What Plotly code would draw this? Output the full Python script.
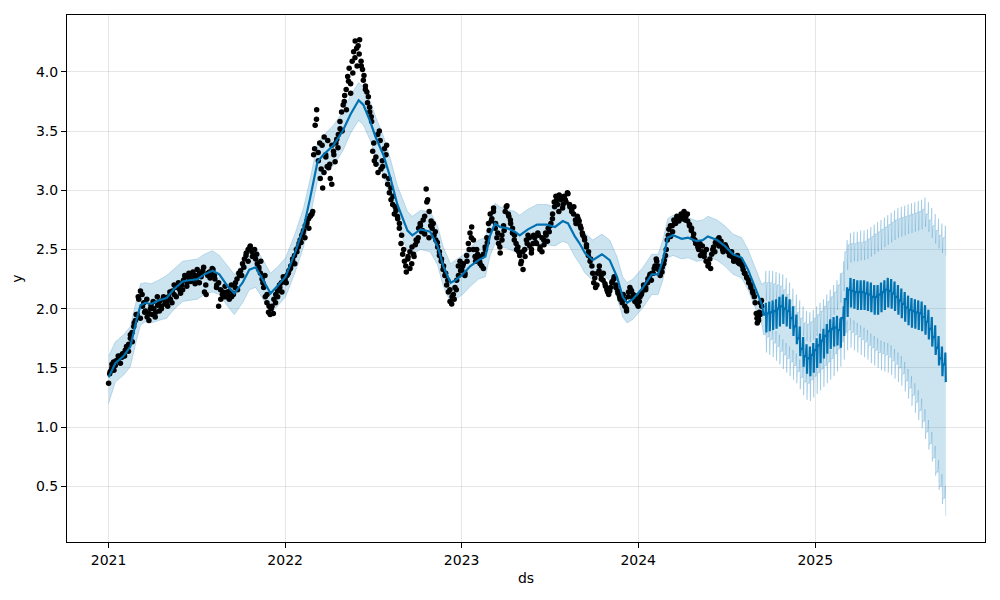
import pandas as pd
import plotly.graph_objects as go

# ---------------- observed data points (grouped by month, two interleaved readings) ----------------
obs_months = ["2021-01", "2021-02", "2021-03", "2021-04", "2021-05", "2021-06",
              "2021-07", "2021-08", "2021-09", "2021-10", "2021-11", "2021-12",
              "2022-01", "2022-02", "2022-03", "2022-04", "2022-05", "2022-06",
              "2022-07", "2022-08", "2022-09", "2022-10", "2022-11", "2022-12",
              "2023-01", "2023-02", "2023-03", "2023-04", "2023-05", "2023-06",
              "2023-07", "2023-08", "2023-09", "2023-10", "2023-11", "2023-12",
              "2024-01", "2024-02", "2024-03", "2024-04", "2024-05", "2024-06",
              "2024-07", "2024-08", "2024-09"]
obs_last_day = "2024-09-14"
obs_values = [
    [1.37, 1.47, 1.53, 1.55, 1.52, 1.56, 1.58, 1.60, 1.59],
    [1.62, 1.65, 1.66, 1.70, 1.75, 1.80, 1.85, 1.90],
    [1.95, 2.08, 2.15, 2.12, 2.05, 1.98, 1.93, 1.96, 2.00],
    [1.95, 2.00, 1.97, 2.03, 2.06, 2.02, 2.08, 2.04],
    [2.05, 2.10, 2.08, 2.15, 2.12, 2.18, 2.20, 2.16],
    [2.20, 2.24, 2.27, 2.22, 2.26, 2.29, 2.25, 2.28],
    [2.25, 2.28, 2.30, 2.27, 2.32, 2.14, 2.12, 2.28, 2.31],
    [2.30, 2.33, 2.25, 2.20, 2.02, 2.16, 2.12, 2.10],
    [2.10, 2.12, 2.15, 2.10, 2.13, 2.18, 2.25, 2.30],
    [2.32, 2.38, 2.42, 2.47, 2.50, 2.52, 2.48, 2.45],
    [2.42, 2.38, 2.35, 2.30, 2.25, 2.18, 2.10, 2.05, 1.97],
    [1.95, 2.02, 2.08, 2.12, 2.15, 2.20, 2.22, 2.27],
    [2.25, 2.28, 2.32, 2.36, 2.40, 2.45, 2.50, 2.52],
    [2.58, 2.62, 2.66, 2.70, 2.72, 2.76, 2.78, 2.80],
    [3.30, 3.55, 3.68, 3.32, 3.40, 3.18, 3.02, 3.45, 3.30, 3.20],
    [3.19, 3.10, 3.38, 3.33, 3.24, 3.43, 3.47, 3.58, 3.66],
    [3.72, 3.80, 3.85, 3.96, 4.03, 3.90, 4.09, 4.17, 4.26, 4.20],
    [4.22, 4.27, 4.09, 4.02, 3.97, 3.88, 3.83, 3.79, 3.66, 3.62],
    [3.33, 3.25, 3.22, 3.47, 3.50, 3.18, 3.20, 3.35, 3.30],
    [3.05, 2.98, 2.92, 2.88, 2.80, 2.83, 2.76, 2.68, 2.55],
    [2.46, 2.40, 2.31, 2.44, 2.48, 2.38, 2.46, 2.54],
    [2.57, 2.68, 2.72, 2.65, 2.75, 2.63, 3.01, 2.92, 2.82, 2.70],
    [2.68, 2.62, 2.58, 2.52, 2.45, 2.40, 2.33, 2.28],
    [2.20, 2.14, 2.06, 2.04, 2.12, 2.18, 2.24, 2.36, 2.40],
    [2.33, 2.38, 2.30, 2.45, 2.55, 2.64, 2.69, 2.50, 2.44],
    [2.50, 2.42, 2.38, 2.36, 2.46, 2.52, 2.60, 2.72],
    [2.80, 2.76, 2.85, 2.68, 2.60, 2.55, 2.47, 2.62, 2.70],
    [2.82, 2.87, 2.78, 2.72, 2.64, 2.58, 2.55, 2.52],
    [2.45, 2.40, 2.33, 2.50, 2.58, 2.62, 2.53, 2.47, 2.55],
    [2.60, 2.55, 2.62, 2.52, 2.48, 2.58, 2.64, 2.57],
    [2.65, 2.72, 2.80, 2.90, 2.95, 2.88, 2.96, 2.92, 2.85],
    [2.95, 2.90, 2.97, 2.86, 2.84, 2.80, 2.75, 2.78],
    [2.74, 2.68, 2.62, 2.58, 2.52, 2.45, 2.40, 2.36],
    [2.22, 2.18, 2.30, 2.36, 2.28, 2.24, 2.21, 2.16],
    [2.12, 2.18, 2.23, 2.27, 2.20, 2.15, 2.10, 2.12],
    [2.12, 2.02, 1.98, 2.10, 2.18, 2.15, 2.12, 2.06, 2.08],
    [2.02, 2.10, 2.14, 2.19, 2.16, 2.22, 2.27, 2.24],
    [2.30, 2.36, 2.40, 2.33, 2.29, 2.31, 2.38, 2.45],
    [2.58, 2.67, 2.61, 2.70, 2.75, 2.72, 2.77, 2.74, 2.78],
    [2.76, 2.82, 2.78, 2.74, 2.70, 2.66, 2.60, 2.58],
    [2.56, 2.50, 2.45, 2.53, 2.47, 2.40, 2.36, 2.42],
    [2.46, 2.52, 2.56, 2.58, 2.60, 2.54, 2.50, 2.52],
    [2.52, 2.48, 2.46, 2.44, 2.40, 2.42, 2.45, 2.38],
    [2.38, 2.33, 2.30, 2.26, 2.24, 2.20, 2.15, 2.10],
    [1.96, 1.88, 1.92, 1.97, 2.05, 2.07],
]
obs_values_b = [
    [1.45, 1.50, 1.48, 1.56, 1.60, 1.54, 1.62],
    [1.60, 1.68, 1.64, 1.78, 1.72, 1.88, 1.95],
    [2.10, 1.92, 2.02, 1.97, 2.08, 1.90, 2.03],
    [2.06, 1.93, 2.10, 1.98, 2.00, 2.10, 2.07],
    [2.02, 2.14, 2.05, 2.20, 2.10, 2.22, 2.13],
    [2.16, 2.28, 2.19, 2.30, 2.23, 2.31, 2.21],
    [2.33, 2.22, 2.29, 2.35, 2.20, 2.30, 2.26],
    [2.34, 2.28, 2.18, 2.22, 2.08, 2.14, 2.19],
    [2.14, 2.08, 2.20, 2.12, 2.22, 2.16, 2.28],
    [2.28, 2.35, 2.45, 2.40, 2.53, 2.44, 2.50],
    [2.46, 2.33, 2.40, 2.22, 2.28, 2.12, 2.02],
    [2.00, 1.96, 2.05, 2.10, 2.18, 2.14, 2.25],
    [2.22, 2.30, 2.34, 2.42, 2.38, 2.48, 2.55],
    [2.56, 2.64, 2.60, 2.74, 2.68, 2.79, 2.82],
    [3.35, 3.60, 3.25, 3.10, 3.38, 3.15, 3.28, 3.42],
    [3.22, 3.05, 3.30, 3.40, 3.36, 3.52, 3.50],
    [3.75, 3.68, 3.92, 3.82, 3.99, 4.12, 4.05],
    [4.15, 4.05, 3.93, 3.85, 3.74, 3.70, 3.58],
    [3.40, 3.28, 3.15, 3.42, 3.25, 3.12, 3.38],
    [3.10, 3.02, 2.95, 2.86, 2.78, 2.72, 2.62],
    [2.50, 2.36, 2.42, 2.34, 2.52, 2.44, 2.58],
    [2.60, 2.70, 2.66, 2.78, 2.90, 2.60, 2.74],
    [2.72, 2.65, 2.56, 2.48, 2.42, 2.36, 2.30],
    [2.24, 2.16, 2.10, 2.08, 2.16, 2.28, 2.32],
    [2.36, 2.28, 2.40, 2.50, 2.60, 2.58, 2.40],
    [2.46, 2.40, 2.44, 2.34, 2.50, 2.56, 2.66],
    [2.74, 2.82, 2.72, 2.64, 2.52, 2.58, 2.66],
    [2.86, 2.80, 2.75, 2.68, 2.62, 2.50, 2.48],
    [2.38, 2.48, 2.44, 2.55, 2.60, 2.50, 2.62],
    [2.56, 2.64, 2.50, 2.60, 2.54, 2.62, 2.68],
    [2.70, 2.76, 2.86, 2.92, 2.82, 2.94, 2.88],
    [2.92, 2.98, 2.88, 2.82, 2.86, 2.72, 2.76],
    [2.70, 2.64, 2.60, 2.54, 2.48, 2.42, 2.30],
    [2.26, 2.20, 2.32, 2.25, 2.30, 2.19, 2.14],
    [2.15, 2.22, 2.25, 2.18, 2.13, 2.08, 2.05],
    [2.08, 2.00, 2.14, 2.16, 2.09, 2.11, 2.04],
    [2.06, 2.12, 2.20, 2.18, 2.25, 2.29, 2.30],
    [2.34, 2.42, 2.36, 2.28, 2.35, 2.41, 2.50],
    [2.62, 2.70, 2.65, 2.73, 2.78, 2.76, 2.80],
    [2.79, 2.75, 2.80, 2.71, 2.68, 2.63, 2.55],
    [2.52, 2.55, 2.48, 2.44, 2.50, 2.38, 2.34],
    [2.50, 2.48, 2.55, 2.53, 2.57, 2.48, 2.54],
    [2.50, 2.45, 2.48, 2.42, 2.44, 2.39, 2.41],
    [2.36, 2.30, 2.27, 2.22, 2.18, 2.13, 2.05],
    [1.92, 1.90, 1.95, 2.02],
]

# ---------------- fitted history (yhat and uncertainty interval) ----------------
hist_dates = ["2021-01-01", "2021-01-15", "2021-02-01", "2021-02-15", "2021-02-28",
              "2021-03-08", "2021-03-18", "2021-03-30", "2021-04-14", "2021-05-01",
              "2021-05-15", "2021-06-03", "2021-06-17", "2021-07-04", "2021-07-18",
              "2021-08-04", "2021-08-18", "2021-09-04", "2021-09-18", "2021-10-05",
              "2021-10-19", "2021-11-01", "2021-11-15", "2021-12-02", "2021-12-18",
              "2022-01-02", "2022-01-22", "2022-02-08", "2022-02-22", "2022-03-09",
              "2022-03-21", "2022-04-11", "2022-04-30", "2022-05-16", "2022-06-02",
              "2022-06-12", "2022-06-26", "2022-07-07", "2022-07-23", "2022-08-07",
              "2022-08-21", "2022-09-03", "2022-09-11", "2022-09-21", "2022-10-08",
              "2022-10-28", "2022-11-12", "2022-11-24", "2022-12-09", "2022-12-19",
              "2023-01-03", "2023-01-19", "2023-02-05", "2023-02-19", "2023-03-01",
              "2023-03-11", "2023-03-21", "2023-04-05", "2023-04-21", "2023-05-01",
              "2023-05-18", "2023-06-06", "2023-06-26", "2023-07-13", "2023-07-29",
              "2023-08-09", "2023-08-23", "2023-09-02", "2023-09-13", "2023-09-29",
              "2023-10-18", "2023-11-03", "2023-11-18", "2023-11-30", "2023-12-09",
              "2023-12-21", "2024-01-11", "2024-01-29", "2024-02-11", "2024-02-21",
              "2024-03-02", "2024-03-13", "2024-03-31", "2024-04-13", "2024-05-01",
              "2024-05-14", "2024-05-24", "2024-06-12", "2024-06-28", "2024-07-15",
              "2024-08-02", "2024-08-15", "2024-08-29", "2024-09-13"]
hist_yhat = [1.42, 1.54, 1.60, 1.68, 1.91, 2.03, 2.05, 2.04, 2.07, 2.09,
             2.16, 2.23, 2.24, 2.25, 2.29, 2.32, 2.29, 2.19, 2.13, 2.22,
             2.33, 2.35, 2.25, 2.13, 2.20, 2.27, 2.48, 2.68, 2.94, 3.24,
             3.30, 3.38, 3.50, 3.64, 3.76, 3.72, 3.58, 3.45, 3.30, 3.10,
             2.88, 2.74, 2.66, 2.62, 2.67, 2.65, 2.53, 2.36, 2.22, 2.24,
             2.29, 2.36, 2.41, 2.44, 2.62, 2.72, 2.69, 2.68, 2.65, 2.62,
             2.67, 2.71, 2.71, 2.69, 2.74, 2.72, 2.61, 2.55, 2.47, 2.41,
             2.46, 2.41, 2.27, 2.10, 2.05, 2.08, 2.18, 2.29, 2.29, 2.41,
             2.60, 2.62, 2.59, 2.60, 2.57, 2.58, 2.61, 2.58, 2.53, 2.46,
             2.43, 2.33, 2.19, 2.03]
hist_lower = [1.20, 1.38, 1.44, 1.51, 1.74, 1.86, 1.89, 1.88, 1.90, 1.92,
              1.99, 2.06, 2.07, 2.08, 2.12, 2.14, 2.12, 2.02, 1.95, 2.05,
              2.16, 2.18, 2.09, 1.96, 2.03, 2.10, 2.31, 2.52, 2.78, 3.08,
              3.14, 3.21, 3.33, 3.48, 3.59, 3.55, 3.42, 3.29, 3.13, 2.93,
              2.72, 2.57, 2.50, 2.46, 2.50, 2.48, 2.37, 2.19, 2.05, 2.08,
              2.12, 2.19, 2.25, 2.27, 2.45, 2.55, 2.52, 2.51, 2.48, 2.46,
              2.50, 2.54, 2.54, 2.53, 2.57, 2.55, 2.44, 2.38, 2.30, 2.24,
              2.29, 2.24, 2.10, 1.93, 1.88, 1.91, 2.01, 2.12, 2.12, 2.24,
              2.43, 2.45, 2.42, 2.43, 2.40, 2.41, 2.44, 2.41, 2.36, 2.29,
              2.26, 2.16, 2.02, 1.86]
hist_upper = [1.60, 1.72, 1.78, 1.85, 2.08, 2.21, 2.22, 2.21, 2.24, 2.28,
              2.33, 2.40, 2.41, 2.42, 2.46, 2.49, 2.45, 2.36, 2.29, 2.38,
              2.50, 2.52, 2.42, 2.30, 2.36, 2.43, 2.64, 2.85, 3.10, 3.40,
              3.46, 3.55, 3.66, 3.80, 3.91, 3.87, 3.75, 3.62, 3.46, 3.26,
              3.04, 2.90, 2.82, 2.78, 2.83, 2.82, 2.70, 2.52, 2.38, 2.41,
              2.45, 2.52, 2.58, 2.60, 2.78, 2.89, 2.86, 2.84, 2.82, 2.79,
              2.84, 2.88, 2.88, 2.86, 2.91, 2.88, 2.78, 2.72, 2.64, 2.58,
              2.63, 2.58, 2.44, 2.27, 2.22, 2.25, 2.35, 2.46, 2.46, 2.58,
              2.76, 2.79, 2.76, 2.77, 2.74, 2.75, 2.78, 2.75, 2.70, 2.63,
              2.60, 2.50, 2.36, 2.20]

# ---------------- forecast (weekly: weekday level + weekend effects) ----------------
fc_first_monday = "2024-09-16"
fc_yhat = [1.95, 1.96, 1.97, 1.98, 2.00, 2.02, 2.00, 1.98, 1.92, 1.85,
           1.75, 1.66, 1.60, 1.58, 1.61, 1.65, 1.69, 1.73, 1.77, 1.81,
           1.83, 1.84, 1.82, 1.92, 2.08, 2.16, 2.15, 2.14, 2.14, 2.14,
           2.13, 2.12, 2.10, 2.10, 2.12, 2.14, 2.16, 2.15, 2.13, 2.10,
           2.07, 2.04, 2.01, 1.99, 1.98, 1.97, 1.96, 1.93, 1.89, 1.83,
           1.76, 1.67, 1.58, 1.53]
fc_upper = [2.22, 2.22, 2.22, 2.21, 2.20, 2.19, 2.16, 2.12, 2.07, 2.02,
            1.97, 1.92, 1.88, 1.87, 1.89, 1.92, 1.95, 1.98, 2.02, 2.06,
            2.10, 2.14, 2.20, 2.30, 2.48, 2.54, 2.55, 2.55, 2.56, 2.56,
            2.57, 2.59, 2.61, 2.63, 2.65, 2.67, 2.69, 2.71, 2.73, 2.75,
            2.76, 2.77, 2.78, 2.79, 2.80, 2.81, 2.82, 2.84, 2.80, 2.75,
            2.70, 2.66, 2.62, 2.60]
fc_lower = [1.78, 1.76, 1.74, 1.71, 1.68, 1.64, 1.61, 1.58, 1.55, 1.52,
            1.47, 1.42, 1.38, 1.37, 1.40, 1.43, 1.46, 1.49, 1.52, 1.55,
            1.58, 1.62, 1.66, 1.72, 1.80, 1.82, 1.80, 1.78, 1.76, 1.74,
            1.72, 1.69, 1.67, 1.65, 1.63, 1.62, 1.61, 1.59, 1.56, 1.53,
            1.50, 1.45, 1.39, 1.33, 1.27, 1.21, 1.14, 1.05, 0.96, 0.86,
            0.74, 0.62, 0.50, 0.40]
saturday_effect = 0.10
sunday_effect = -0.15

# ---------------- assemble series ----------------
obs_x, obs_y = [], []
for i, m in enumerate(obs_months):
    start = pd.Timestamp(m + "-01")
    end = pd.Timestamp(obs_last_day) if i == len(obs_months) - 1 else start + pd.offsets.MonthBegin(1)
    span = end - start
    for vals, shift in ((obs_values[i], 0.0), (obs_values_b[i], 0.5)):
        n = len(vals)
        for j, v in enumerate(vals):
            obs_x.append(start + span * ((j + shift) / n))
            obs_y.append(v)

day_offsets = [0, 4, 5, 6]  # Monday, Friday, Saturday, Sunday
effects = [0.0, 0.0, saturday_effect, sunday_effect]
fc_x, fc_y, fc_lo, fc_hi = [], [], [], []
week0 = pd.Timestamp(fc_first_monday)
for k in range(len(fc_yhat)):
    for d, e in zip(day_offsets, effects):
        fc_x.append(week0 + pd.Timedelta(days=7 * k + d))
        fc_y.append(fc_yhat[k] + e)
        fc_lo.append(fc_lower[k] + e)
        fc_hi.append(fc_upper[k] + e)

all_x = list(pd.to_datetime(hist_dates)) + fc_x
all_y = hist_yhat + fc_y
all_lo = hist_lower + fc_lo
all_hi = hist_upper + fc_hi

BLUE = "#0072B2"
BAND = "rgba(0,114,178,0.2)"

fig = go.Figure()
fig.add_trace(go.Scatter(x=all_x, y=all_lo, mode="lines",
                         line=dict(color=BAND, width=1), showlegend=False, hoverinfo="skip"))
fig.add_trace(go.Scatter(x=all_x, y=all_hi, mode="lines", fill="tonexty", fillcolor=BAND,
                         line=dict(color=BAND, width=1), showlegend=False, hoverinfo="skip"))
fig.add_trace(go.Scatter(x=obs_x, y=obs_y, mode="markers",
                         marker=dict(color="black", size=5.5), showlegend=False))
fig.add_trace(go.Scatter(x=all_x, y=all_y, mode="lines",
                         line=dict(color=BLUE, width=2.2), showlegend=False))

axis_common = dict(showline=True, linecolor="black", linewidth=1, mirror=True,
                   ticks="outside", ticklen=5, tickwidth=1, tickcolor="black",
                   showgrid=True, gridcolor="rgba(128,128,128,0.2)", gridwidth=1,
                   zeroline=False, tickfont=dict(family="DejaVu Sans", size=14, color="black"))

fig.update_layout(
    width=1000, height=600,
    margin=dict(l=59, r=23, t=7, b=66),
    paper_bgcolor="white", plot_bgcolor="white",
    font=dict(family="DejaVu Sans", size=14, color="black"),
    xaxis=dict(range=["2020-10-07", "2025-12-18"], type="date",
               tickvals=["2021-01-01", "2022-01-01", "2023-01-01", "2024-01-01", "2025-01-01"],
               ticktext=["2021", "2022", "2023", "2024", "2025"],
               title=dict(text="ds", standoff=6, font=dict(family="DejaVu Sans", size=14)),
               **axis_common),
    yaxis=dict(range=[0.03, 4.48], tickvals=[0.5, 1.0, 1.5, 2.0, 2.5, 3.0, 3.5, 4.0],
               tickformat=".1f",
               title=dict(text="y", standoff=10, font=dict(family="DejaVu Sans", size=14)),
               **axis_common),
)

fig.write_html("out.html")
